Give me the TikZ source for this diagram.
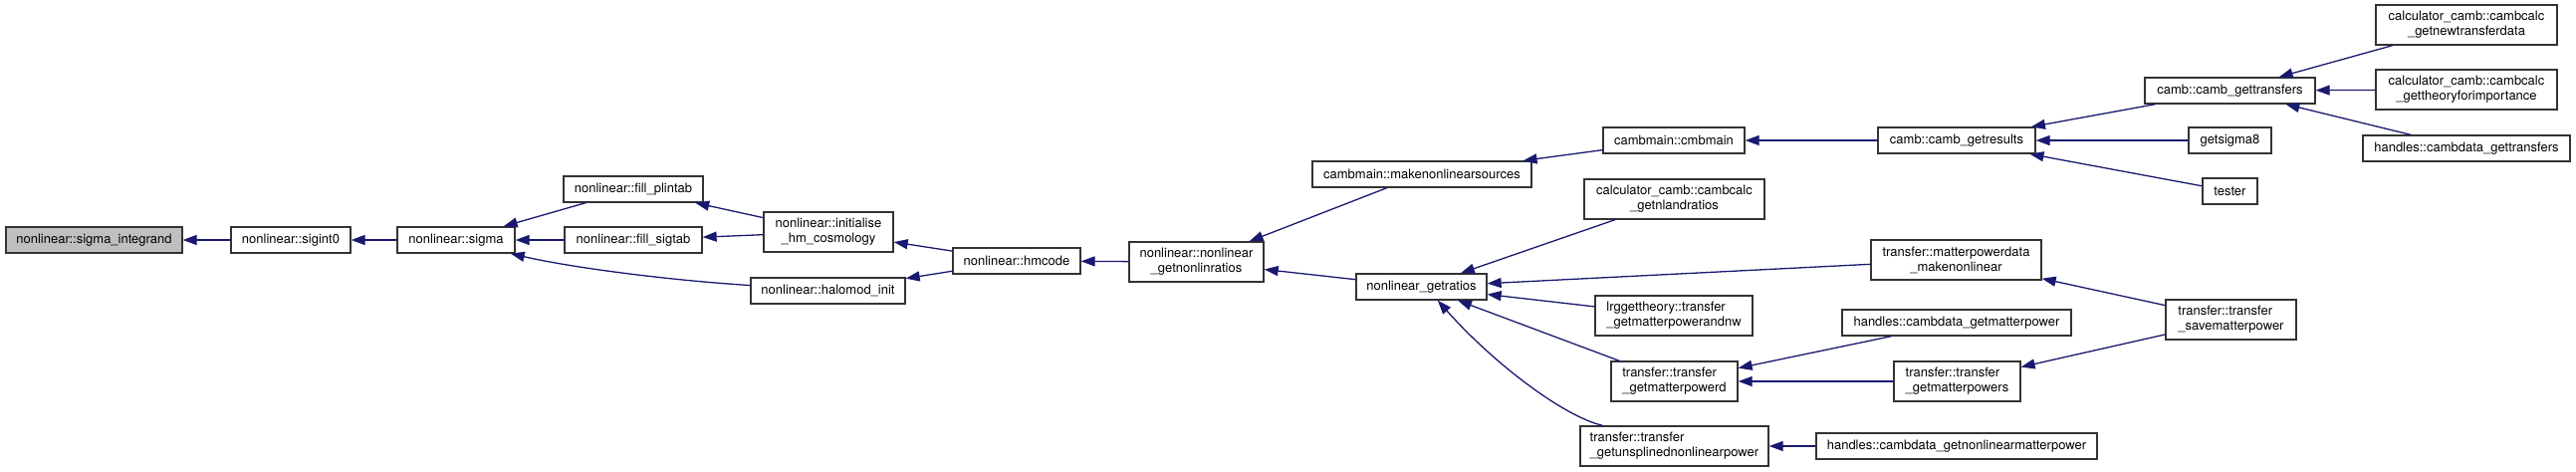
\documentclass[tikz,border=0pt]{standalone}
\usepackage{fontspec}
\setmainfont{TeX Gyre Heros}
\usetikzlibrary{arrows.meta}
\definecolor{mblue}{HTML}{191970}
\definecolor{rootgray}{HTML}{BFBFBF}
\begin{document}
\begin{tikzpicture}[x=0.5pt,y=-0.5pt,
  box/.style={draw=black!80, line width=0.65pt, fill=white, inner sep=0pt,
    minimum height=13pt, font=\fontsize{6.5}{7.5}\selectfont, align=center},
  two/.style={minimum height=20pt},
  lft/.style={align=left},
  root/.style={fill=rootgray},
  edge/.style={draw=mblue, line width=0.65pt, -{Triangle[length=7pt,width=5pt]}}]
\useasboundingbox (0,0) rectangle (2587,473);

\node[box,root,minimum width=88.5pt] (A) at (94.5,241) {nonlinear::sigma\_integrand};
\node[box,minimum width=60pt] (B) at (292,241) {nonlinear::sigint0};
\node[box,minimum width=59pt] (C) at (458,241) {nonlinear::sigma};
\node[box,minimum width=70pt] (D) at (636,190) {nonlinear::fill\_plintab};
\node[box,minimum width=69pt] (E) at (636,241) {nonlinear::fill\_sigtab};
\node[box,two,minimum width=65pt] (F) at (832,233) {nonlinear::initialise\\\_hm\_cosmology};
\node[box,minimum width=77.5pt] (G) at (831.5,292) {nonlinear::halomod\_init};
\node[box,minimum width=64pt] (H) at (1021,262) {nonlinear::hmcode};
\node[box,two,minimum width=67.5pt] (I) at (1201.5,263) {nonlinear::nonlinear\\\_getnonlinratios};
\node[box,minimum width=110pt] (J) at (1428,175) {cambmain::makenonlinearsources};
\node[box,minimum width=65.5pt] (K) at (1427.5,288) {nonlinear\_getratios};
\node[box,minimum width=71pt] (L) at (1681,141) {cambmain::cmbmain};
\node[box,minimum width=79pt] (M) at (1965,141) {camb::camb\_getresults};
\node[box,minimum width=85.5pt] (N) at (2239.5,91) {camb::camb\_gettransfers};
\node[box,minimum width=41.5pt] (O) at (2239.5,141) {getsigma8};
\node[box,minimum width=27.5pt] (P) at (2239.5,192) {tester};
\node[box,two,minimum width=91pt] (Q) at (2477,25) {calculator\_camb::cambcalc\\\_getnewtransferdata};
\node[box,two,minimum width=91pt] (R) at (2477,90) {calculator\_camb::cambcalc\\\_gettheoryforimportance};
\node[box,minimum width=104pt] (S) at (2477,149) {handles::cambdata\_gettransfers};
\node[box,two,minimum width=90.5pt] (T) at (1681.5,200) {calculator\_camb::cambcalc\\\_getnlandratios};
\node[box,two,minimum width=85.5pt] (U) at (1964.5,261) {transfer::matterpowerdata\\\_makenonlinear};
\node[box,two,lft,minimum width=79pt] (V) at (1681,317) {lrggettheory::transfer\\\_getmatterpowerandnw};
\node[box,two,lft,minimum width=63.5pt] (W) at (1681.5,383) {transfer::transfer\\\_getmatterpowerd};
\node[box,two,lft,minimum width=94.5pt] (X) at (1681.5,448) {transfer::transfer\\\_getunsplinednonlinearpower};
\node[box,two,lft,minimum width=65.5pt] (Y) at (2240.5,321) {transfer::transfer\\\_savematterpower};
\node[box,minimum width=115pt] (Z) at (1965,324) {handles::cambdata\_getmatterpower};
\node[box,two,lft,minimum width=63.5pt] (AA) at (1965.5,383) {transfer::transfer\\\_getmatterpowers};
\node[box,minimum width=141pt] (AB) at (1965,448) {handles::cambdata\_getnonlinearmatterpower};

\draw[edge] (B) -- (A);
\draw[edge] (C) -- (B);
\draw[edge] (D) -- (C);
\draw[edge] (E) -- (C);
\draw[edge] (G.176) .. controls (680,282) and (580,270) .. (C.-14);
\draw[edge] (F) -- (D);
\draw[edge] (F) -- (E);
\draw[edge] (H) -- (F);
\draw[edge] (H) -- (G);
\draw[edge] (I) -- (H);
\draw[edge] (J) -- (I);
\draw[edge] (K) -- (I);
\draw[edge] (L) -- (J);
\draw[edge] (M) -- (L);
\draw[edge] (N) -- (M);
\draw[edge] (O) -- (M);
\draw[edge] (P) -- (M);
\draw[edge] (Q) -- (N);
\draw[edge] (R) -- (N);
\draw[edge] (S) -- (N);
\draw[edge] (T) -- (K);
\draw[edge] (U) -- (K);
\draw[edge] (V) -- (K);
\draw[edge] (W) -- (K);
\draw[edge] (X.164) .. controls (1570,418) and (1500,365) .. (K.-40);
\draw[edge] (Y) -- (U);
\draw[edge] (Z) -- (W);
\draw[edge] (AA) -- (W);
\draw[edge] (Y) -- (AA);
\draw[edge] (AB) -- (X);
\end{tikzpicture}
\end{document}
